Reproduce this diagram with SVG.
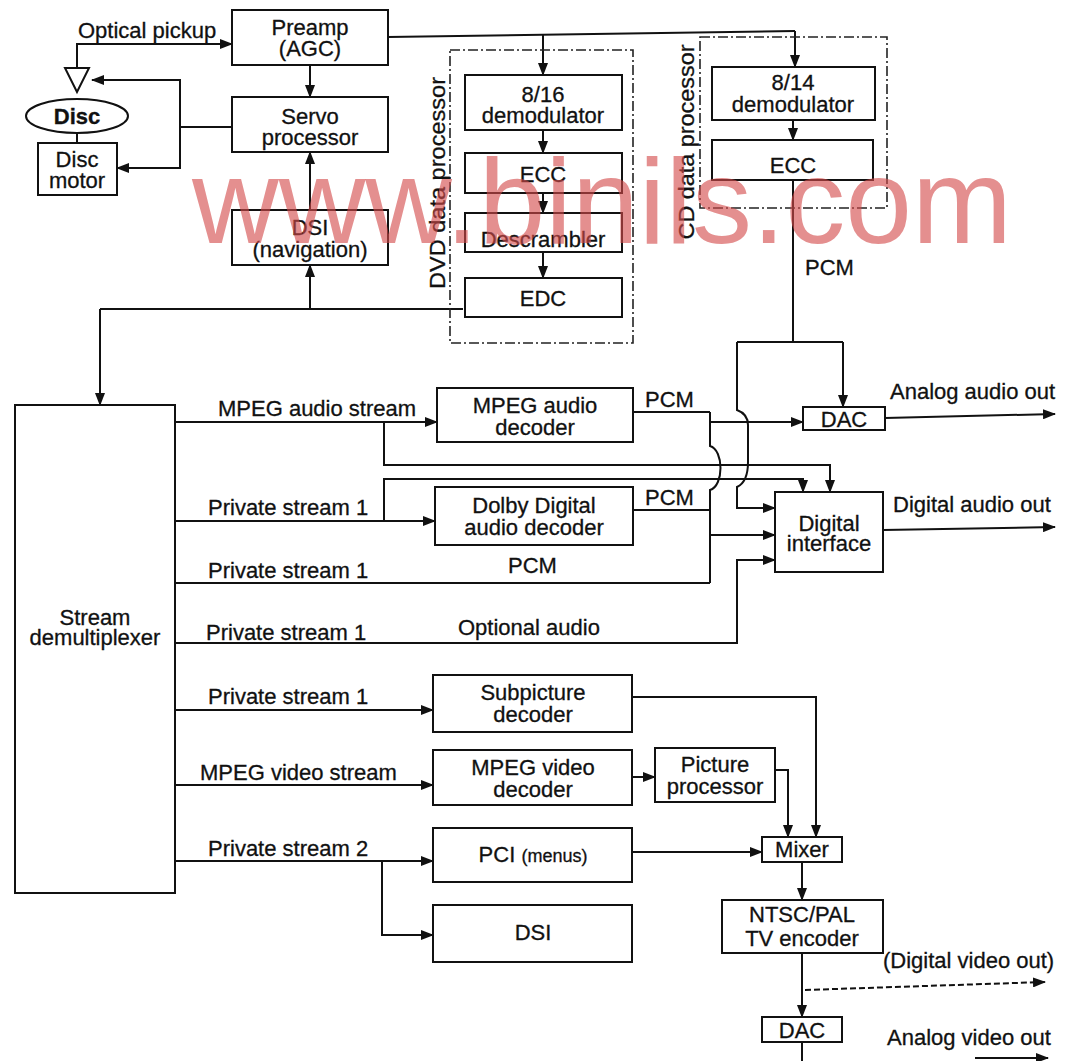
<svg xmlns="http://www.w3.org/2000/svg" width="1065" height="1061" viewBox="0 0 1065 1061">
<defs>
<marker id="ah" markerWidth="13" markerHeight="10" refX="12" refY="5" orient="auto" markerUnits="userSpaceOnUse"><path d="M0,0 L13,5 L0,10 z" fill="#111"/></marker>
<style>
.box{fill:none;stroke:#111;stroke-width:2}
.grp{fill:none;stroke:#222;stroke-width:1.6;stroke-dasharray:10 3 2 3}
.t{font-family:"Liberation Sans",Arial,sans-serif;font-size:22px;fill:#111;stroke:#111;stroke-width:0.3;text-anchor:middle}
.l{font-family:"Liberation Sans",Arial,sans-serif;font-size:22px;fill:#111;stroke:#111;stroke-width:0.3}
.c{fill:none;stroke:#111;stroke-width:2}
.a{marker-end:url(#ah)}
.wm{font-family:"Liberation Sans",Arial,sans-serif;font-size:120px;fill:#d44a4a;fill-opacity:0.62}
</style>
</defs>
<rect width="1065" height="1061" fill="#fff"/>

<g id="connectors">
<path class="c a" d="M77 68 V44 H232"/>
<path class="c a" d="M310 65 V97"/>
<path class="c" d="M232 127 H180"/>
<path class="c a" d="M180 127 V80 H92"/>
<path class="c a" d="M180 127 V168 H117"/>
<path class="c" d="M77 133 V143"/>
<path class="c a" d="M310 210 V152"/>
<path class="c" d="M388 37 L795 31"/>
<path class="c a" d="M543 34 V75"/>
<path class="c a" d="M795 31 V67"/>
<path class="c a" d="M543 130 V153"/>
<path class="c a" d="M543 193 V213"/>
<path class="c a" d="M543 252 V278"/>
<path class="c a" d="M793 120 V140"/>
<path class="c" d="M463 309 H100"/>
<path class="c a" d="M100 309 V405"/>
<path class="c a" d="M310 309 V265"/>
<path class="c" d="M793 180 V342"/>
<path class="c" d="M737 342 H843"/>
<path class="c a" d="M843 342 V407"/>
<path class="c a" d="M737 342 V410 Q748 414 748 425 V462 Q748 482 737 487 V508 H775"/>
<path class="c a" d="M175 422 H437"/>
<path class="c a" d="M384 422 V465 H830 V492"/>
<path class="c a" d="M175 521 H435"/>
<path class="c a" d="M384 521 V479 H803 V492"/>
<path class="c" d="M633 412 H710"/>
<path class="c" d="M633 510 H710"/>
<path class="c" d="M175 583 H710"/>
<path class="c" d="M710 412 V446 C724 450 724 486 710 490 V583"/>
<path class="c a" d="M710 422 H803"/>
<path class="c a" d="M710 535 H775"/>
<path class="c a" d="M175 643 H737 V560 H775"/>
<path class="c a" d="M885 418 L1055 414"/>
<path class="c a" d="M883 530 L1055 527"/>
<path class="c a" d="M175 710 H433"/>
<path class="c a" d="M175 785 H433"/>
<path class="c a" d="M175 861 H433"/>
<path class="c a" d="M382 861 V935 H433"/>
<path class="c a" d="M632 697 H816 V837"/>
<path class="c a" d="M632 777 H655"/>
<path class="c a" d="M775 770 H788 V837"/>
<path class="c a" d="M632 852 H762"/>
<path class="c a" d="M802 862 V900"/>
<path class="c a" d="M802 953 V1017"/>
<path class="c a" d="M805 990 L1045 982" stroke-dasharray="6 3"/>
<path class="c" d="M802 1042 V1061"/>
<path class="c a" d="M975 1058 H1048"/>
</g>

<g id="optical-pickup">
<polygon class="box" points="65,68 89,68 77,92"/>
<text class="l" x="78" y="38">Optical pickup</text>
</g>
<g id="disc">
<ellipse class="box" cx="77" cy="116" rx="51" ry="17"/>
<text class="t" x="77" y="124" font-weight="bold">Disc</text>
</g>
<g id="disc-motor">
<rect class="box" x="38" y="143" width="79" height="52"/>
<text class="t" x="77" y="167">Disc</text>
<text class="t" x="77" y="188">motor</text>
</g>
<g id="preamp">
<rect class="box" x="232" y="10" width="156" height="55"/>
<text class="t" x="310" y="35">Preamp</text>
<text class="t" x="310" y="56">(AGC)</text>
</g>
<g id="servo">
<rect class="box" x="232" y="97" width="156" height="55"/>
<text class="t" x="310" y="124">Servo</text>
<text class="t" x="310" y="145">processor</text>
</g>
<g id="dsi-nav">
<rect class="box" x="232" y="210" width="156" height="55"/>
<text class="t" x="310" y="235">DSI</text>
<text class="t" x="310" y="257">(navigation)</text>
</g>

<g id="dvd-data-processor">
<rect class="grp" x="450" y="50" width="183" height="293"/>
<text class="t" transform="translate(445,183) rotate(-90)" x="0" y="0" textLength="212" lengthAdjust="spacingAndGlyphs">DVD data processor</text>
<rect class="box" x="465" y="75" width="157" height="55"/>
<text class="t" x="543" y="102">8/16</text>
<text class="t" x="543" y="123">demodulator</text>
<rect class="box" x="465" y="153" width="157" height="40"/>
<text class="t" x="543" y="182">ECC</text>
<rect class="box" x="465" y="213" width="157" height="39"/>
<text class="t" x="543" y="247">Descrambler</text>
<rect class="box" x="465" y="278" width="157" height="39"/>
<text class="t" x="543" y="306">EDC</text>
</g>

<g id="cd-data-processor">
<rect class="grp" x="700" y="37" width="187" height="171"/>
<text class="t" transform="translate(694,142) rotate(-90)" x="0" y="0" textLength="195" lengthAdjust="spacingAndGlyphs">CD data processor</text>
<rect class="box" x="712" y="67" width="163" height="53"/>
<text class="t" x="793" y="90">8/14</text>
<text class="t" x="793" y="112">demodulator</text>
<rect class="box" x="712" y="140" width="161" height="40"/>
<text class="t" x="793" y="173">ECC</text>
</g>
<text class="l" x="805" y="275">PCM</text>

<g id="stream-demux">
<rect class="box" x="15" y="405" width="160" height="488"/>
<text class="t" x="95" y="625">Stream</text>
<text class="t" x="95" y="645">demultiplexer</text>
</g>

<g id="stream-labels">
<text class="l" x="218" y="416">MPEG audio stream</text>
<text class="l" x="208" y="515">Private stream 1</text>
<text class="l" x="208" y="578">Private stream 1</text>
<text class="l" x="508" y="573">PCM</text>
<text class="l" x="206" y="640">Private stream 1</text>
<text class="l" x="458" y="635">Optional audio</text>
<text class="l" x="208" y="704">Private stream 1</text>
<text class="l" x="200" y="780">MPEG video stream</text>
<text class="l" x="208" y="856">Private stream 2</text>
<text class="l" x="645" y="407">PCM</text>
<text class="l" x="645" y="505">PCM</text>
</g>

<g id="mpeg-audio-decoder">
<rect class="box" x="437" y="388" width="196" height="54"/>
<text class="t" x="535" y="413">MPEG audio</text>
<text class="t" x="535" y="435">decoder</text>
</g>
<g id="dolby-decoder">
<rect class="box" x="435" y="487" width="198" height="58"/>
<text class="t" x="534" y="513">Dolby Digital</text>
<text class="t" x="534" y="535">audio decoder</text>
</g>
<g id="audio-dac">
<rect class="box" x="803" y="407" width="82" height="23"/>
<text class="t" x="844" y="427">DAC</text>
<text class="l" x="890" y="399">Analog audio out</text>
</g>
<g id="digital-interface">
<rect class="box" x="775" y="492" width="108" height="80"/>
<text class="t" x="829" y="531">Digital</text>
<text class="t" x="829" y="551">interface</text>
<text class="l" x="893" y="512">Digital audio out</text>
</g>

<g id="subpicture-decoder">
<rect class="box" x="433" y="675" width="199" height="57"/>
<text class="t" x="533" y="700">Subpicture</text>
<text class="t" x="533" y="722">decoder</text>
</g>
<g id="mpeg-video-decoder">
<rect class="box" x="433" y="750" width="199" height="55"/>
<text class="t" x="533" y="775">MPEG video</text>
<text class="t" x="533" y="797">decoder</text>
</g>
<g id="picture-processor">
<rect class="box" x="655" y="748" width="120" height="54"/>
<text class="t" x="715" y="772">Picture</text>
<text class="t" x="715" y="794">processor</text>
</g>
<g id="pci">
<rect class="box" x="433" y="828" width="199" height="54"/>
<text class="t" x="533" y="862">PCI <tspan font-size="18">(menus)</tspan></text>
</g>
<g id="dsi">
<rect class="box" x="433" y="905" width="199" height="57"/>
<text class="t" x="533" y="940">DSI</text>
</g>
<g id="mixer">
<rect class="box" x="762" y="837" width="80" height="25"/>
<text class="t" x="802" y="857">Mixer</text>
</g>
<g id="tv-encoder">
<rect class="box" x="722" y="900" width="161" height="53"/>
<text class="t" x="802" y="922">NTSC/PAL</text>
<text class="t" x="802" y="946">TV encoder</text>
</g>
<text class="l" x="883" y="968">(Digital video out)</text>
<g id="video-dac">
<rect class="box" x="762" y="1017" width="80" height="25"/>
<text class="t" x="802" y="1038">DAC</text>
</g>
<text class="l" x="887" y="1045">Analog video out</text>

<text class="wm" x="192" y="243" textLength="820" lengthAdjust="spacingAndGlyphs">www.binils.com</text>
</svg>
